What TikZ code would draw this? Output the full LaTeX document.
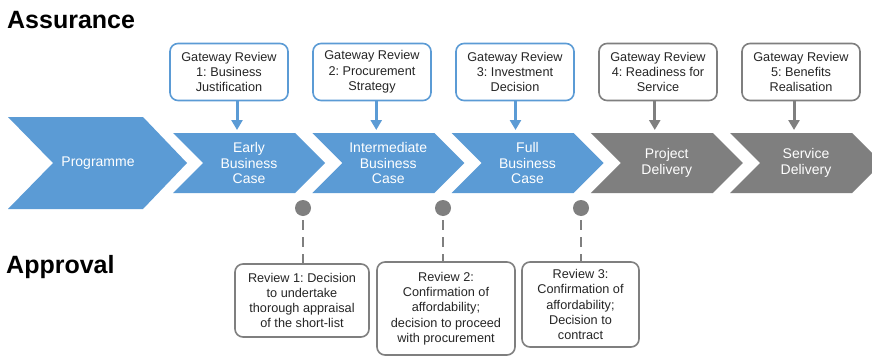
\documentclass[tikz,border=0pt]{standalone}
\usepackage{fontspec}
\setmainfont{Liberation Sans}
\usetikzlibrary{arrows.meta}
\frenchspacing

\definecolor{stageblue}{RGB}{91,155,213}
\definecolor{stagegrey}{RGB}{127,127,127}

\begin{document}
\begin{tikzpicture}[x=1pt,y=-1pt,
    every node/.style={font=\fontsize{12.7}{15.3}\selectfont,text=black!85},
    heading/.style={font=\fontsize{25}{30}\selectfont\bfseries,text=black,anchor=base west,inner sep=0pt},
    stagetext/.style={font=\fontsize{14}{15.3}\selectfont,text=white,align=center,inner sep=0pt},
    gatebox/.style={draw=#1,line width=1.6pt,rounded corners=8pt,fill=white,
        minimum width=118pt,minimum height=57pt,align=center,inner sep=0pt},
    approvalbox/.style={draw=stagegrey,line width=1.6pt,rounded corners=8pt,fill=white,
        align=center,inner sep=0pt},
    feed/.style={draw=#1,line width=3pt,-{Triangle[width=11pt,length=10pt]}},
    dot/.style={circle,fill=stagegrey,minimum size=16pt,inner sep=0pt},
    decisionline/.style={draw=stagegrey,line width=2.3pt,dash pattern=on 10pt off 7pt}]

    % Page area
    \fill[white] (0,0) rectangle (872,356);
    \clip (0,0) rectangle (872,356);

    % Headings
    \node[heading] (assurance) at (7,28) {Assurance};
    \node[heading] (approval) at (6,273) {Approval};

    % Programme chevron
    \fill[stageblue] (8,117) -- (143,117) -- (187,163) -- (143,209) -- (8,209) -- (53,163) -- cycle;
    \node[stagetext] (prog) at (98,163) {Programme};

    % Stage chevrons
    \foreach \i/\col/\txt in {1/stageblue/{Early\\Business\\Case},
                              2/stageblue/{Intermediate\\Business\\Case},
                              3/stageblue/{Full\\Business\\Case},
                              4/stagegrey/{Project\\Delivery},
                              5/stagegrey/{Service\\Delivery}} {
        \pgfmathsetmacro{\xs}{173+139.25*(\i-1)}
        \fill[\col] (\xs,133) -- ++(122,0) -- ++(30,30) -- ++(-30,30) -- ++(-122,0) -- ++(30,-30) -- cycle;
        \node[stagetext] (st\i) at (\xs+76,163) {\txt};
        \coordinate (ar\i) at (\xs+64,130);
    }

    % Gateway reviews
    \node[gatebox=stageblue] (g1) at (229,72) {Gateway Review\\1: Business\\Justification};
    \node[gatebox=stageblue] (g2) at (372,72) {Gateway Review\\2: Procurement\\Strategy};
    \node[gatebox=stageblue] (g3) at (515,72) {Gateway Review\\3: Investment\\Decision};
    \node[gatebox=stagegrey] (g4) at (658,72) {Gateway Review\\4: Readiness for\\Service};
    \node[gatebox=stagegrey] (g5) at (801,72) {Gateway Review\\5: Benefits\\Realisation};

    \foreach \i/\col in {1/stageblue,2/stageblue,3/stageblue,4/stagegrey,5/stagegrey} {
        \draw[feed=\col] (ar\i |- g\i.south) -- (ar\i);
    }

    % Approval points
    \node[dot] (d1) at (303,208) {};
    \node[dot] (d2) at (443,208) {};
    \node[dot] (d3) at (581,208) {};

    \node[approvalbox,minimum width=134pt,minimum height=73pt] (r1) at (302,300.5)
        {Review 1: Decision\\to undertake\\thorough appraisal\\of the short-list};
    \node[approvalbox,minimum width=138pt,minimum height=93pt] (r2) at (446,308.5)
        {Review 2:\\Confirmation of\\affordability;\\decision to proceed\\with procurement};
    \node[approvalbox,minimum width=117pt,minimum height=85pt] (r3) at (580.5,304.5)
        {Review 3:\\Confirmation of\\affordability;\\Decision to\\contract};

    \foreach \i in {1,2,3} {
        \draw[decisionline,shorten <=4pt] (d\i) -- (d\i |- r\i.north);
    }

\end{tikzpicture}
\end{document}
